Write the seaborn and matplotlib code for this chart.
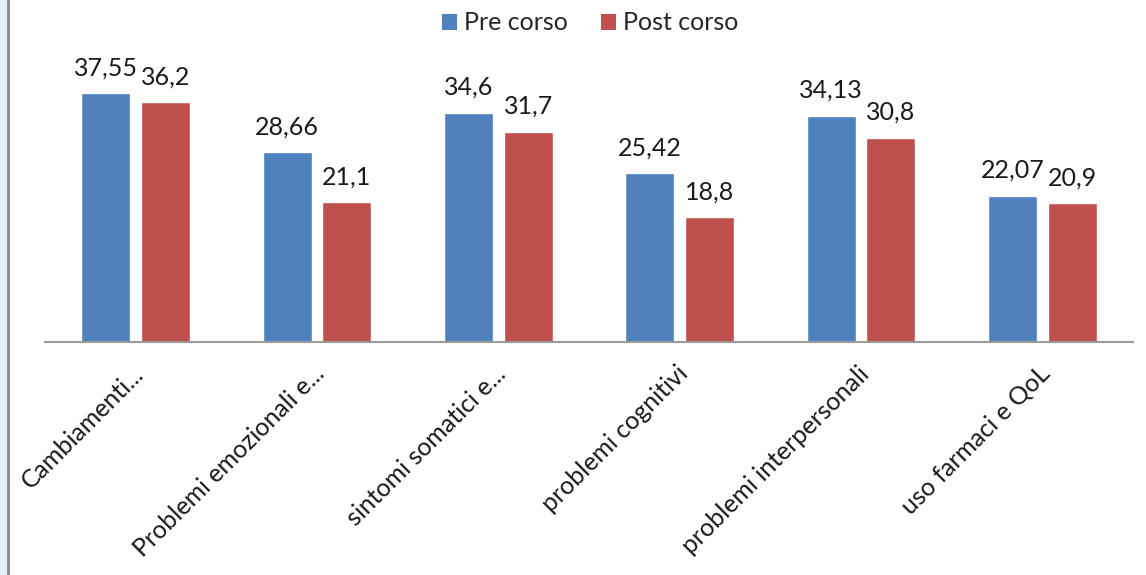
import matplotlib
matplotlib.use("Agg")
import matplotlib.pyplot as plt
import matplotlib.transforms as mtransforms
from matplotlib.lines import Line2D
from matplotlib.patches import Rectangle, Patch
import pandas as pd
import seaborn as sns

categories = [
    "Cambiamenti...",
    "Problemi emozionali e...",
    "sintomi somatici e...",
    "problemi cognitivi",
    "problemi interpersonali",
    "uso farmaci e QoL",
]
pre_corso = [37.55, 28.66, 34.6, 25.42, 34.13, 22.07]
post_corso = [36.2, 21.1, 31.7, 18.8, 30.8, 20.9]
series_names = ["Pre corso", "Post corso"]
bar_colors = ["#4F81BD", "#C0504D"]

df = pd.DataFrame({
    "categoria": categories * 2,
    "valore": pre_corso + post_corso,
    "serie": [series_names[0]] * len(categories) + [series_names[1]] * len(categories),
})

sns.set_style("white")
plt.rcParams["font.family"] = ["Lato", "DejaVu Sans"]

W, H = 1146, 575
fig = plt.figure(figsize=(W / 100, H / 100), dpi=100)
ax = fig.add_axes([45 / W, 1 - 342 / H, 1088 / W, (342 - 45) / H])

sns.barplot(data=df, x="categoria", y="valore", hue="serie", order=categories,
            hue_order=series_names, palette=bar_colors, width=0.66, gap=0.18,
            saturation=1, legend=False, ax=ax)

ax.set_ylim(0, (342 - 45) / 6.63)
ax.set_xlim(-0.5, len(categories) - 0.5)
ax.set_xlabel("")
ax.set_ylabel("")
ax.set_yticks([])
for side in ["top", "right", "left"]:
    ax.spines[side].set_visible(False)
ax.spines["bottom"].set_color("#9a9a9a")
ax.spines["bottom"].set_linewidth(1.5)
ax.tick_params(axis="x", length=0, pad=0)

# data labels with decimal comma
for cont in ax.containers:
    labels = [f"{v:g}".replace(".", ",") for v in cont.datavalues]
    ax.bar_label(cont, labels=labels, padding=10, fontsize=18, color="#1a1a1a")

# rotated category labels
ax.set_xticks(range(len(categories)))
ax.set_xticklabels(categories, rotation=45, ha="right", va="center",
                   rotation_mode="anchor", fontsize=18, color="#1a1a1a")
offset = mtransforms.ScaledTranslation(4 / 100, -28 / 100, fig.dpi_scale_trans)
for lbl in ax.get_xticklabels():
    lbl.set_transform(lbl.get_transform() + offset)

# legend on top
handles = [Patch(facecolor=c, edgecolor="none") for c in bar_colors]
fig.legend(handles, series_names, loc="center", bbox_to_anchor=(590 / W, 1 - 23 / H),
           ncol=2, frameon=False, fontsize=18, handlelength=0.6, handleheight=0.6,
           handletextpad=0.3, columnspacing=1.3)

# slide border on the left
fig.patches.append(Rectangle((0, 0), 7 / W, 1, transform=fig.transFigure,
                             facecolor="#e8eef8", edgecolor="none"))
fig.lines.append(Line2D([8 / W, 8 / W], [0, 1], transform=fig.transFigure,
                        color="#8a8a8a", linewidth=2))

fig.savefig("out.png", dpi=100)
